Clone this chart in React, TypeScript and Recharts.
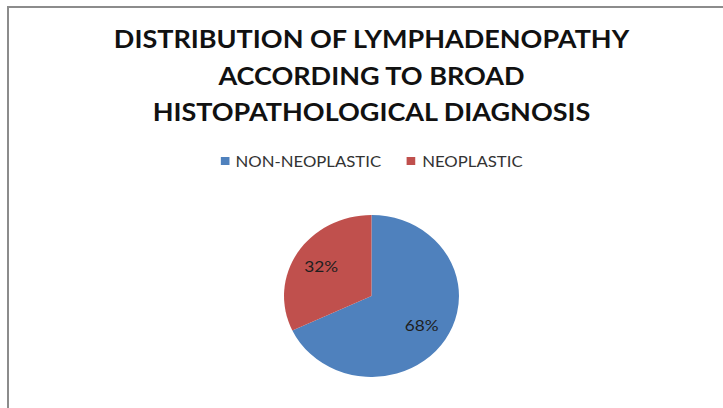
import React from "react";
import { PieChart, Pie, Cell } from "recharts";

const categories = ["NON-NEOPLASTIC", "NEOPLASTIC"];
const values = [68, 32];
const colors = ["#4F81BD", "#C0504D"];
const titleLines = [
  "DISTRIBUTION OF LYMPHADENOPATHY",
  "ACCORDING TO BROAD",
  "HISTOPATHOLOGICAL DIAGNOSIS",
];

const data = categories.map((name, i) => ({ name, value: values[i] }));

const RADIAN = Math.PI / 180;

const renderLabel = (props: any) => {
  const { cx, cy, midAngle, outerRadius, percent } = props;
  const r = outerRadius * 0.68;
  const x = cx + r * Math.cos(-midAngle * RADIAN);
  const y = cy + r * Math.sin(-midAngle * RADIAN);
  return (
    <text
      x={x}
      y={y}
      fill="#1e1e1e"
      textAnchor="middle"
      dominantBaseline="central"
      fontFamily="Lato, sans-serif"
      fontSize={16}
    >
      {`${Math.round(percent * 100)}%`}
    </text>
  );
};

export default function App() {
  return (
    <div
      style={{
        position: "absolute",
        left: 0,
        top: 0,
        width: 723,
        height: 408,
        background: "#fff",
        overflow: "hidden",
      }}
    >
      <div
        style={{
          position: "absolute",
          left: 7,
          top: 6,
          width: 716,
          height: 402,
          borderLeft: "2px solid #8c8c8c",
          borderTop: "2px solid #8c8c8c",
        }}
      />
      <div
        style={{
          position: "absolute",
          left: 0,
          top: 0,
          width: 723,
          height: 408,
          transform: "scaleX(1.08)",
          transformOrigin: "371.5px 0px",
        }}
      >
        {titleLines.map((t, i) => (
          <div
            key={i}
            style={{
              position: "absolute",
              left: 0,
              width: 743,
              top: 24 + i * 36.5,
              textAlign: "center",
              fontFamily: "Lato, sans-serif",
              fontWeight: 700,
              fontSize: 25,
              lineHeight: "28px",
              color: "#111",
              whiteSpace: "nowrap",
            }}
          >
            {t}
          </div>
        ))}
        <div
          style={{
            position: "absolute",
            left: 0,
            width: 743,
            top: 153,
            display: "flex",
            justifyContent: "center",
            fontFamily: "Lato, sans-serif",
            fontSize: 15.5,
            color: "#333",
            lineHeight: "16px",
          }}
        >
          {categories.map((c, i) => (
            <div
              key={c}
              style={{
                display: "flex",
                alignItems: "center",
                marginRight: i === 0 ? 24 : 0,
              }}
            >
              <span
                style={{
                  display: "inline-block",
                  width: 8,
                  height: 8,
                  background: colors[i],
                  marginRight: 6,
                }}
              />
              <span>{c}</span>
            </div>
          ))}
        </div>
        <PieChart
          width={723}
          height={408}
          margin={{ top: 0, right: 0, bottom: 0, left: 0 }}
          style={{ position: "absolute", left: 0, top: 0 }}
        >
          <Pie
            data={data}
            dataKey="value"
            nameKey="name"
            cx={371.5}
            cy={296}
            outerRadius={81}
            startAngle={90}
            endAngle={-270}
            stroke="none"
            label={renderLabel}
            labelLine={false}
            isAnimationActive={false}
          >
            {data.map((d, i) => (
              <Cell key={d.name} fill={colors[i]} />
            ))}
          </Pie>
        </PieChart>
      </div>
    </div>
  );
}
